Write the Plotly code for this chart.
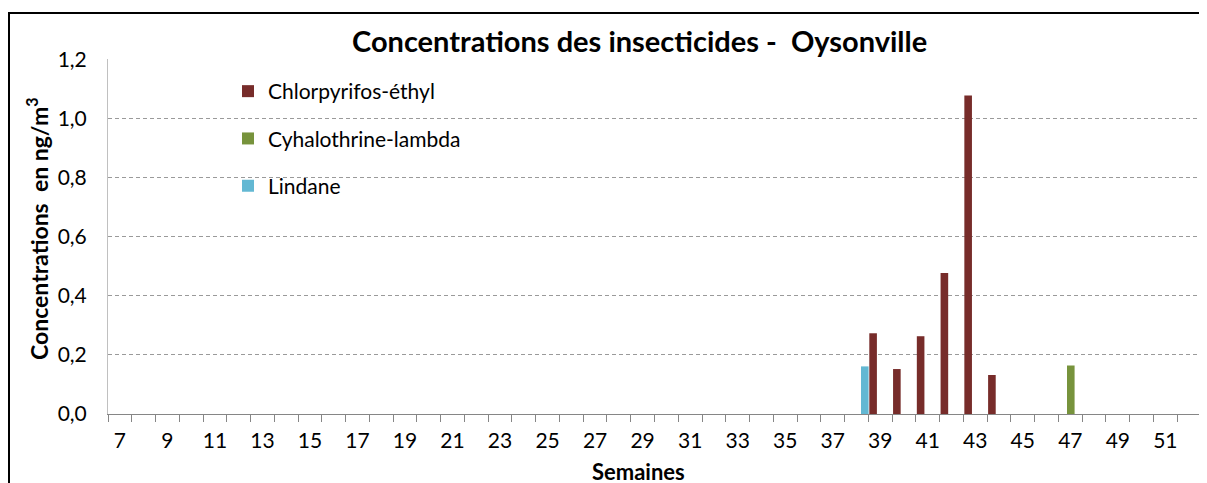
import plotly.graph_objects as go

# ---- data ----
chlorpyrifos_weeks = [39, 40, 41, 42, 43, 44]
chlorpyrifos_vals = [0.273, 0.152, 0.263, 0.477, 1.077, 0.132]
cyhalothrine_weeks = [47]
cyhalothrine_vals = [0.164]
lindane_weeks = [38]
lindane_vals = [0.161]
tick_weeks = [7, 9, 11, 13, 15, 17, 19, 21, 23, 25, 27, 29, 31, 33, 35, 37, 39, 41, 43, 45, 47, 49, 51]

FONT = "Lato"
OFF = 8  # page body margin
W, H = 1207 - OFF, 483 - OFF
L, T = 108 - OFF, 59 - OFF
pw, ph = 1093, 355
R = W - L - pw
B = H - T - ph

def px_x(p):  # reference-page pixel -> paper x
    return (p - OFF - L) / pw

def px_y(p):  # reference-page pixel -> paper y
    return (H - B - (p - OFF)) / ph

BW = 0.32
fig = go.Figure()
fig.add_trace(go.Bar(x=chlorpyrifos_weeks, y=chlorpyrifos_vals, name="Chlorpyrifos-éthyl",
                     width=BW, offset=-0.46,
                     marker=dict(color="#772C2A", line=dict(width=0)), legendgroup="a"))
fig.add_trace(go.Bar(x=cyhalothrine_weeks, y=cyhalothrine_vals, name="Cyhalothrine-lambda",
                     width=BW, offset=-0.14,
                     marker=dict(color="#77933C", line=dict(width=0)), legendgroup="b"))
fig.add_trace(go.Bar(x=lindane_weeks, y=lindane_vals, name="Lindane",
                     width=BW, offset=0.19,
                     marker=dict(color="#63B8D3", line=dict(width=0)), legendgroup="c"))

fig.update_layout(
    width=W, height=H,
    margin=dict(l=L, r=R, t=T, b=B, pad=0),
    paper_bgcolor="white", plot_bgcolor="white",
    barmode="overlay",
    separators=", ",
    font=dict(family=FONT, size=21, color="#000000"),
    showlegend=True,
    legend=dict(x=px_x(228), y=px_y(71), xanchor="left", yanchor="top",
                bgcolor="rgba(0,0,0,0)", font=dict(size=21, family=FONT),
                tracegroupgap=17, itemsizing="constant"),
    xaxis=dict(
        range=[6.5, 52.5], tickmode="array", tickvals=tick_weeks,
        ticktext=[str(w) for w in tick_weeks],
        ticks="", showgrid=False, zeroline=False,
        showline=True, linecolor="#868686", linewidth=1,
        tickfont=dict(size=21, family=FONT), ticklabelstandoff=8,
        minor=dict(tickmode="linear", tick0=6.5, dtick=1, ticks="outside",
                   ticklen=7, tickcolor="#868686", tickwidth=1, showgrid=False),
    ),
    yaxis=dict(
        range=[0, 1.2005], tickmode="linear", tick0=0, dtick=0.2, tickformat=".1f",
        showgrid=True, gridcolor="#9A9A9A", griddash="4px,3px", gridwidth=1,
        zeroline=False, showline=True, linecolor="#C0C0C0", linewidth=1,
        ticks="", tickfont=dict(size=21, family=FONT), ticklabelstandoff=16,
    ),
    annotations=[
        dict(text="<b>Concentrations des insecticides -  Oysonville</b>", xref="paper", yref="paper",
             x=px_x(639), y=px_y(40), xanchor="center", yanchor="middle", showarrow=False,
             font=dict(size=29, family=FONT, color="#000000")),
        dict(text="<b>Concentrations  en ng/m<sup>3</sup></b>", xref="paper", yref="paper",
             x=px_x(37), y=px_y(229), xanchor="center", yanchor="middle", textangle=-90,
             showarrow=False, font=dict(size=23, family=FONT, color="#000000")),
        dict(text="<b>Semaines</b>", xref="paper", yref="paper",
             x=px_x(638), y=px_y(471), xanchor="center", yanchor="middle", showarrow=False,
             font=dict(size=22, family=FONT, color="#000000")),
    ],
    shapes=[
        # outer chart border (top and left edges visible in the frame)
        dict(type="line", xref="paper", yref="paper", x0=px_x(9), x1=px_x(1240),
             y0=px_y(13), y1=px_y(13), line=dict(color="#000000", width=2), layer="above"),
        dict(type="line", xref="paper", yref="paper", x0=px_x(9), x1=px_x(9),
             y0=px_y(12), y1=px_y(540), line=dict(color="#000000", width=2), layer="above"),
    ],
)

fig.write_html(
    "out.html",
    post_script="document.documentElement.style.overflow='hidden';document.body.style.overflow='hidden';",
)
